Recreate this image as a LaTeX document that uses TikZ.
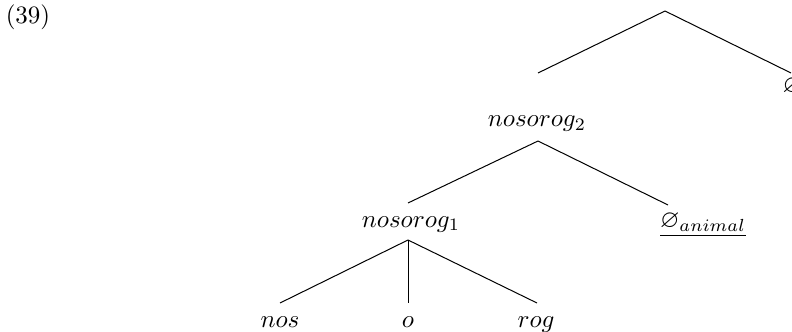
\documentclass[tikz,border=0pt]{standalone}
\usepackage{amssymb}
\begin{document}
\begin{tikzpicture}[x=0.4pt,y=-0.4pt,
  lbl/.style={inner sep=0pt, anchor=base},
  branch/.style={line width=0.4pt}]
\useasboundingbox (0,0) rectangle (792,332);
\clip (0,0) rectangle (792,332);
\node[lbl] (num) at (28,24) {(39)};
% top part
\coordinate (top) at (665,11);
\coordinate (topL) at (538,73);
\coordinate (topR) at (791,73);
\node[lbl, anchor=base west] (emptyR) at (782,93) {$\varnothing$};
\draw[branch] (top) -- (topL);
\draw[branch] (top) -- (topR);
% nosorog2
\node[lbl] (n2) at (537,127) {$nosorog_2$};
\coordinate (n2a) at (538,141);
\coordinate (n1t) at (408,203);
\coordinate (animt) at (668,205);
\node[lbl] (anim) at (703,228) {$\underline{\varnothing_{animal}}$};
\draw[branch] (n2a) -- (n1t);
\draw[branch] (n2a) -- (animt);
% nosorog1
\node[lbl] (n1) at (411,227) {$nosorog_1$};
\coordinate (n1a) at (408,240);
\coordinate (nost) at (280,303);
\coordinate (ot) at (408,303);
\coordinate (rogt) at (537,303);
\node[lbl] (nos) at (280,327) {$nos$};
\node[lbl] (o) at (408,327) {$o$};
\node[lbl] (rog) at (536,327) {$rog$};
\draw[branch] (n1a) -- (nost);
\draw[branch] (n1a) -- (ot);
\draw[branch] (n1a) -- (rogt);
\end{tikzpicture}
\end{document}
